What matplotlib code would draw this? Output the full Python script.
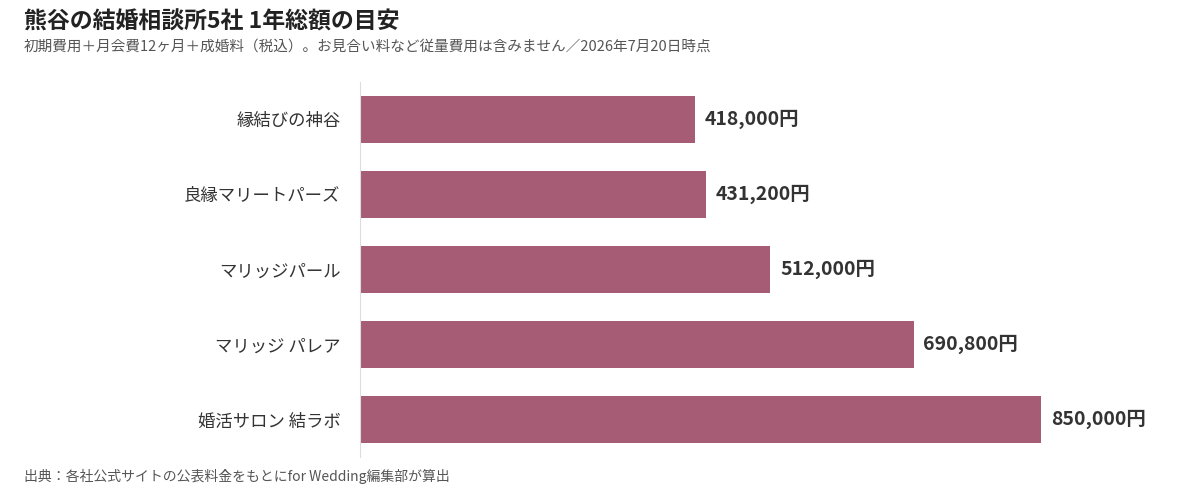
import matplotlib
matplotlib.use("Agg")
from matplotlib import pyplot as plt

plt.rcParams['font.family'] = ['Noto Sans CJK JP', 'DejaVu Sans']

names = ["縁結びの神谷", "良縁マリートパーズ", "マリッジパール", "マリッジ パレア", "婚活サロン 結ラボ"]
totals = [418000, 431200, 512000, 690800, 850000]
labels = ["418,000円", "431,200円", "512,000円", "690,800円", "850,000円"]

fig = plt.figure(figsize=(12, 4.9), dpi=100)
ax = fig.add_axes([0.3, 0.067, 0.668, 0.766])

ypos = list(range(len(names)))
ax.barh(ypos, totals, height=0.62, color="#A65C74")
for y, v, t in zip(ypos, totals, labels):
    ax.text(v + 12000, y, t, va="center", ha="left", fontsize=14,
            fontweight="bold", color="#333333")

ax.set_yticks(ypos)
ax.set_yticklabels(names, fontsize=12.5, color="#333333")
ax.set_ylim(4.5, -0.5)
ax.set_xlim(0, 1000000)
ax.set_xticks([])
ax.tick_params(axis="y", length=0, pad=14)
for s in ["top", "right", "bottom"]:
    ax.spines[s].set_visible(False)
ax.spines["left"].set_color("#dddddd")

fig.text(0.02, 0.955, "熊谷の結婚相談所5社 1年総額の目安", fontsize=16.5,
         fontweight="bold", color="#222222", va="center")
fig.text(0.02, 0.905, "初期費用＋月会費12ヶ月＋成婚料（税込）。お見合い料など従量費用は含みません／2026年7月20日時点",
         fontsize=10.5, color="#555555", va="center")
fig.text(0.02, 0.027, "出典：各社公式サイトの公表料金をもとにfor Wedding編集部が算出",
         fontsize=10, color="#555555", va="center")

fig.savefig("out.png")
